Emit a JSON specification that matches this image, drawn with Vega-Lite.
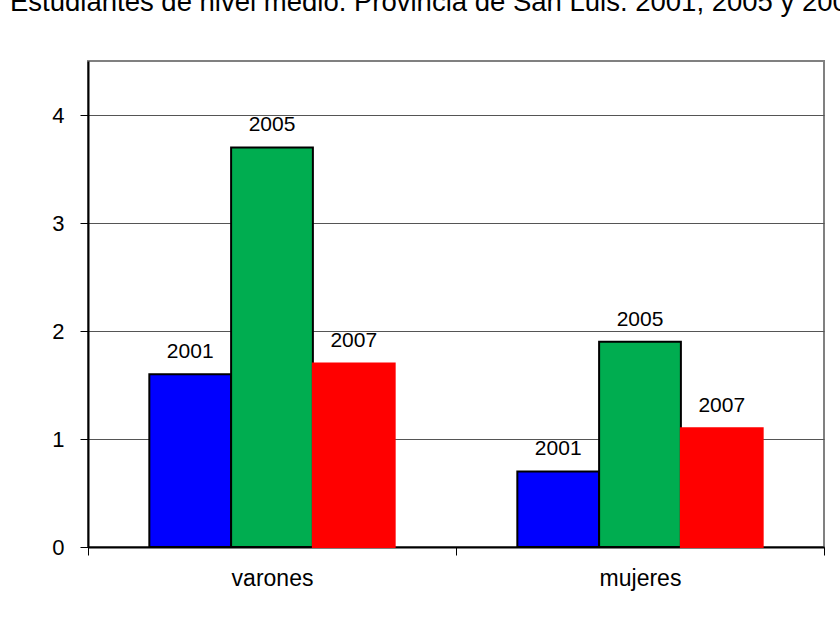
{
  "$schema": "https://vega.github.io/schema/vega-lite/v6.json",
  "width": 736,
  "height": 486,
  "autosize": {"type": "none"},
  "padding": {"left": 88, "top": 61, "right": 16, "bottom": 85},
  "background": "white",
  "title": {
    "text": "Estudiantes de nivel medio. Provincia de San Luis. 2001, 2005 y 2007",
    "anchor": "start",
    "frame": "group",
    "dx": -78,
    "offset": 0,
    "dy": -23,
    "baseline": "alphabetic",
    "font": "Liberation Sans",
    "fontSize": 27.5,
    "fontWeight": "normal",
    "color": "black"
  },
  "config": {
    "view": {"stroke": "#808080", "strokeWidth": 2},
    "font": "Liberation Sans"
  },
  "data": {
    "values": [
      {"sexo": "varones", "anio": "2001", "valor": 1.6},
      {"sexo": "varones", "anio": "2005", "valor": 3.7},
      {"sexo": "varones", "anio": "2007", "valor": 1.7},
      {"sexo": "mujeres", "anio": "2001", "valor": 0.7},
      {"sexo": "mujeres", "anio": "2005", "valor": 1.9},
      {"sexo": "mujeres", "anio": "2007", "valor": 1.1}
    ]
  },
  "encoding": {
    "x": {
      "field": "sexo",
      "type": "nominal",
      "sort": ["varones", "mujeres"],
      "scale": {"paddingInner": 0, "paddingOuter": 0},
      "axis": {
        "title": null,
        "labelAngle": 0,
        "labelFontSize": 23,
        "labelColor": "black",
        "labelPadding": 12,
        "tickBand": "extent",
        "tickSize": 8,
        "tickColor": "black",
        "tickWidth": 1,
        "domainColor": "black",
        "domainWidth": 2,
        "grid": false
      }
    },
    "xOffset": {
      "field": "anio",
      "type": "nominal",
      "scale": {"paddingInner": 0, "paddingOuter": 0.75}
    },
    "y": {
      "field": "valor",
      "type": "quantitative",
      "scale": {"domain": [0, 4.5], "nice": false},
      "axis": {
        "title": null,
        "values": [0, 1, 2, 3, 4],
        "labelFontSize": 22,
        "labelColor": "black",
        "labelPadding": 16,
        "tickSize": 8,
        "tickColor": "black",
        "domainColor": "black",
        "domainWidth": 2,
        "grid": true,
        "gridColor": "#555555",
        "gridWidth": 1.2
      }
    }
  },
  "layer": [
    {
      "mark": {"type": "bar", "strokeWidth": 2},
      "encoding": {
        "color": {
          "field": "anio",
          "type": "nominal",
          "scale": {"domain": ["2001", "2005", "2007"], "range": ["#0000ff", "#00ad50", "#ff0000"]},
          "legend": null
        },
        "stroke": {
          "field": "anio",
          "type": "nominal",
          "scale": {"domain": ["2001", "2005", "2007"], "range": ["#000000", "#000000", "#ff0000"]},
          "legend": null
        }
      }
    },
    {
      "mark": {"type": "text", "dy": -16, "fontSize": 21, "color": "black", "baseline": "alphabetic"},
      "encoding": {
        "text": {"field": "anio"}
      }
    }
  ]
}
